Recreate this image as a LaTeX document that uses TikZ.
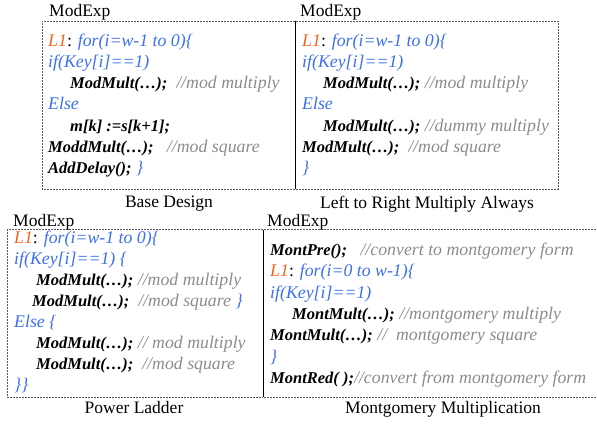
\documentclass[tikz,border=0pt]{standalone}
\usepackage{fontspec}
\setmainfont{Liberation Serif}[
  UprightFont=*,
  BoldFont=* Bold,
  ItalicFont=* Italic,
  BoldItalicFont=* Bold Italic]
\definecolor{kwblue}{RGB}{60,110,240}
\definecolor{lblorange}{RGB}{240,100,30}
\definecolor{cmtgray}{RGB}{140,140,140}
\definecolor{framegray}{RGB}{90,90,90}
% control words, loop labels, comments, calls
\newcommand{\kw}[1]{{\color{kwblue}\itshape #1}}
\newcommand{\lb}[1]{{\color{lblorange}\itshape #1}}
\newcommand{\cmt}[1]{{\color{cmtgray}\itshape #1}}
\newcommand{\fn}[1]{{\fontsize{16.5bp}{21bp}\selectfont\bfseries\itshape #1}}
\tikzset{
  codeline/.style={anchor=base west, inner sep=0pt, font=\fontsize{17.8bp}{21bp}\selectfont},
  caption/.style={anchor=base, inner sep=0pt, font=\fontsize{17.5bp}{20bp}\selectfont},
  title/.style={anchor=base west, inner sep=0pt, font=\fontsize{17.5bp}{20bp}\selectfont},
  frame/.style={draw=framegray, line width=0.8bp, dash pattern=on 2bp off 1bp},
  divider/.style={draw=black, line width=1bp}
}
\begin{document}
\begin{tikzpicture}[x=1bp,y=-1bp]
\useasboundingbox (0,0) rectangle (597,423);

% frames of the upper pair
\draw[frame] (295,21) -- (42,21) -- (42,189) -- (295,189);
\draw[frame] (296,21) -- (558,21) -- (558,189) -- (296,189);
\draw[divider] (295.5,21) -- (295.5,189);
% frames of the lower pair
\draw[frame] (263,229.5) -- (7,229.5) -- (7,397) -- (263,397);
\draw[frame] (264,229.5) -- (597,229.5);
\draw[frame] (264,397) -- (597,397);
\draw[divider] (263.5,229.5) -- (263.5,397);

% titles and captions
\node[title] (t1) at (49,16) {ModExp};
\node[title] (t2) at (300,16) {ModExp};
\node[title] (t3) at (13,226) {ModExp};
\node[title] (t4) at (267,226) {ModExp};
\node[caption] (c1) at (169,207) {Base Design};
\node[caption] (c2) at (427,208) {Left to Right Multiply Always};
\node[caption] (c3) at (134,413) {Power Ladder};
\node[caption] (c4) at (443,413) {Montgomery Multiplication};

% base design
\node[codeline] (a1) at (48,46) {\lb{L1}: \kw{for(i=w-1 to 0)\{}};
\node[codeline] (a2) at (48,67) {\kw{if(Key[i]==1)}};
\node[codeline] (a3) at (70,88) {\fn{ModMult(…);}\ \ \cmt{//mod multiply}};
\node[codeline] (a4) at (48,109) {\kw{Else}};
\node[codeline] (a5) at (70,131) {\fn{m[k] :=s[k+1];}};
\node[codeline] (a6) at (48,152) {\fn{ModdMult(…);}\ \ \ \cmt{//mod square}};
\node[codeline] (a7) at (48,173) {\fn{AddDelay();} \kw{\}}};

% left to right multiply always
\node[codeline] (b1) at (302,46) {\lb{L1}: \kw{for(i=w-1 to 0)\{}};
\node[codeline] (b2) at (302,67) {\kw{if(Key[i]==1)}};
\node[codeline] (b3) at (323,88) {\fn{ModMult(…);} \cmt{//mod multiply}};
\node[codeline] (b4) at (302,109) {\kw{Else}};
\node[codeline] (b5) at (323,131) {\fn{ModMult(…);} \cmt{//dummy multiply}};
\node[codeline] (b6) at (302,152) {\fn{ModMult(…);}\ \ \cmt{//mod square}};
\node[codeline] (b7) at (302,173) {\kw{\}}};

% power ladder
\node[codeline] (p1) at (14,243) {\lb{L1}: \kw{for(i=w-1 to 0)\{}};
\node[codeline] (p2) at (14,264) {\kw{if(Key[i]==1) \{}};
\node[codeline] (p3) at (36,285) {\fn{ModMult(…);} \cmt{//mod multiply}};
\node[codeline] (p4) at (32,306) {\fn{ModMult(…);}\ \ \cmt{//mod square} \kw{\}}};
\node[codeline] (p5) at (14,327) {\kw{Else \{}};
\node[codeline] (p6) at (36,348) {\fn{ModMult(…);} \cmt{// mod multiply}};
\node[codeline] (p7) at (36,369) {\fn{ModMult(…);}\ \ \cmt{//mod square}};
\node[codeline] (p8) at (14,390) {\kw{\}\}}};

% montgomery multiplication
\node[codeline] (m1) at (270,255) {\fn{MontPre();}\ \ \ \cmt{//convert to montgomery form}};
\node[codeline] (m2) at (270,276) {\lb{L1}: \kw{for(i=0 to w-1)\{}};
\node[codeline] (m3) at (270,298) {\kw{if(Key[i]==1)}};
\node[codeline] (m4) at (292,319) {\fn{MontMult(…);} \cmt{//montgomery multiply}};
\node[codeline] (m5) at (270,340) {\fn{MontMult(…);} \cmt{//\ \ montgomery square}};
\node[codeline] (m6) at (270,362) {\kw{\}}};
\node[codeline] (m7) at (270,383) {\fn{MontRed( );}\cmt{//convert from montgomery form}};
\end{tikzpicture}
\end{document}
